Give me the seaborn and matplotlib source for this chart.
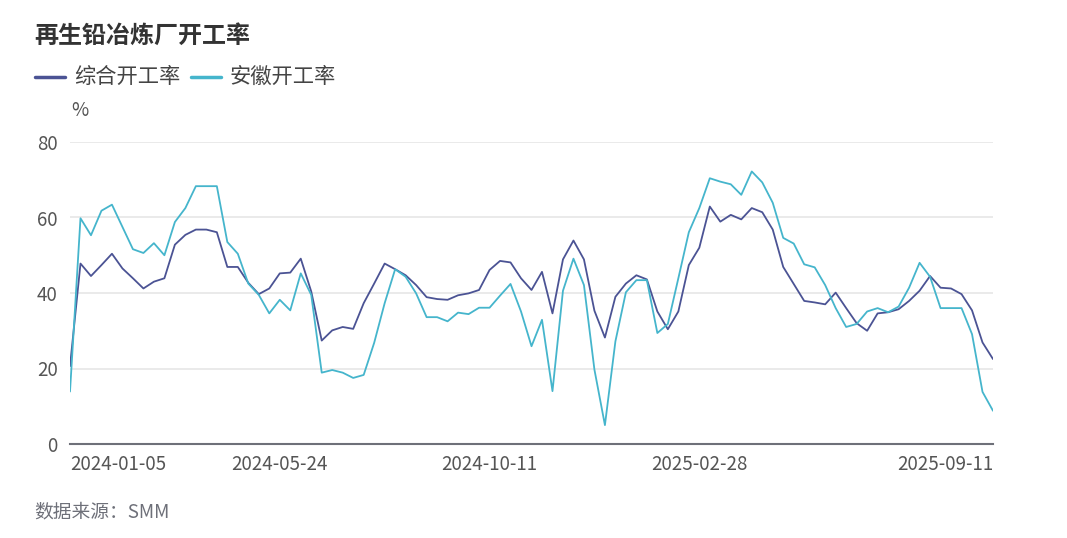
import numpy as np
import pandas as pd
import matplotlib
matplotlib.use("Agg")
import matplotlib.pyplot as plt
import seaborn as sns

title = "再生铅冶炼厂开工率"
series_names = ["综合开工率", "安徽开工率"]
x_tick_labels = ["2024-01-05", "2024-05-24", "2024-10-11", "2025-02-28", "2025-09-11"]
x_tick_index = [0, 20, 40, 60, 88]

zonghe = [20.6, 47.8, 44.5, 47.4, 50.4, 46.5, 43.9, 41.2, 43.0, 43.9,
          52.8, 55.4, 56.8, 56.8, 56.1, 46.9, 46.9, 42.7, 39.7, 41.2,
          45.2, 45.4, 49.1, 40.4, 27.4, 30.1, 31.0, 30.5, 37.3, 42.5,
          47.8, 46.3, 44.7, 42.1, 38.9, 38.4, 38.2, 39.4, 39.9, 40.8,
          46.1, 48.5, 48.1, 43.9, 40.8, 45.6, 34.6, 48.9, 53.9, 48.9,
          35.3, 28.2, 39.0, 42.5, 44.7, 43.6, 35.1, 30.4, 35.1, 47.4,
          52.0, 62.9, 58.9, 60.7, 59.5, 62.5, 61.4, 56.8, 46.9, 42.4,
          37.9, 37.5, 37.0, 40.1, 36.0, 32.0, 30.0, 34.6, 34.9, 35.7,
          37.9, 40.6, 44.5, 41.4, 41.2, 39.7, 35.4, 26.9, 22.5]
anhui = [13.9, 59.8, 55.3, 61.8, 63.4, 57.5, 51.6, 50.6, 53.2, 50.0,
         58.8, 62.5, 68.3, 68.3, 68.3, 53.5, 50.4, 42.5, 39.5, 34.6,
         38.2, 35.4, 45.2, 39.5, 18.9, 19.6, 18.9, 17.5, 18.3, 26.8,
         37.3, 46.3, 44.3, 39.9, 33.6, 33.6, 32.5, 34.8, 34.4, 36.1,
         36.1, 39.3, 42.4, 35.1, 25.9, 32.9, 14.0, 40.6, 49.1, 42.1,
         19.7, 5.0, 27.2, 40.2, 43.4, 43.4, 29.4, 31.8, 43.9, 56.1,
         62.5, 70.4, 69.5, 68.8, 66.0, 72.2, 69.3, 63.9, 54.6, 53.1,
         47.6, 46.8, 42.1, 36.0, 31.0, 31.8, 35.1, 36.0, 34.9, 36.4,
         41.4, 48.0, 44.3, 36.0, 36.0, 36.0, 29.1, 13.8, 8.8]

colors = ["#4b5394", "#45b5cc"]

sns.set_theme(style="white")
plt.rcParams['font.family'] = ['Noto Sans CJK SC', 'DejaVu Sans']

W, H = 1067, 538
fig = plt.figure(figsize=(W / 100, H / 100), dpi=100)
left, right, top, bottom = 70, 993, 142, 444
ax = fig.add_axes([left / W, 1 - bottom / H, (right - left) / W, (bottom - top) / H])

idx = np.arange(len(zonghe))
df = pd.DataFrame({
    "idx": np.concatenate([idx, idx]),
    "value": zonghe + anhui,
    "series": [series_names[0]] * len(zonghe) + [series_names[1]] * len(anhui),
})
sns.lineplot(data=df, x="idx", y="value", hue="series", palette=colors,
             linewidth=1.3, ax=ax, legend=False)

ax.set_xlim(0, len(zonghe) - 1)
ax.set_ylim(0, 80)
ax.set_yticks([0, 20, 40, 60, 80])
ax.set_yticklabels(["0", "20", "40", "60", "80"])
ax.grid(axis="y", color="#e6e6e6", linewidth=1.2)
ax.grid(axis="x", visible=False)
ax.set_axisbelow(True)
for s in ["top", "right", "left"]:
    ax.spines[s].set_visible(False)
ax.spines["bottom"].set_color("#6e7079")
ax.spines["bottom"].set_linewidth(1.5)
ax.set_xlabel("")
ax.set_ylabel("")
ax.tick_params(axis="y", length=0, pad=9, labelsize=13.5, labelcolor="#555555")
ax.set_xticks(x_tick_index)
ax.set_xticklabels(x_tick_labels)
ax.tick_params(axis="x", length=0, pad=7, labelsize=13.5, labelcolor="#555555")
xl = ax.get_xticklabels()
xl[0].set_horizontalalignment("left")
xl[-1].set_horizontalalignment("right")

fig.text(34 / W, 1 - 36 / H, title, fontsize=17.3, fontweight="bold",
         color="#333333", va="center", ha="left")

# legend
for i, (name, c) in enumerate(zip(series_names, colors)):
    x0 = [35, 191][i]
    fig.add_artist(plt.Line2D([x0 / W, (x0 + 30) / W], [1 - 77 / H, 1 - 77 / H],
                              color=c, linewidth=2.5, transform=fig.transFigure))
    fig.text((x0 + 39) / W, 1 - 77 / H, name, fontsize=15.3, color="#444444",
             va="center", ha="left")

fig.text(71 / W, 1 - 110 / H, "%", fontsize=13.5, color="#555555",
         va="center", ha="left")
fig.text(34 / W, 1 - 512 / H, "数据来源：SMM", fontsize=13.5, color="#6e7079",
         style="italic", va="center", ha="left")

fig.savefig("out.png", dpi=100)
